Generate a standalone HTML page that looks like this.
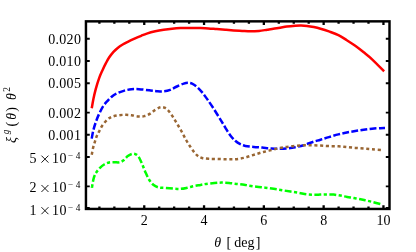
<!DOCTYPE html>
<html><head><meta charset="utf-8"><title>plot</title>
<style>
html,body{margin:0;padding:0;background:#fff;}
body{width:416px;height:252px;overflow:hidden;}
svg{display:block;will-change:transform;}
svg text{font-family:"Liberation Serif",serif;font-size:14px;fill:#000;}
</style></head><body>
<svg width="416" height="252" viewBox="0 0 416 252">
<rect width="416" height="252" fill="#fff"/>
<rect x="85.95" y="21.35" width="303.55" height="187.60" fill="none" stroke="#000" stroke-width="2.45"/>
<path d="M99.40 208.95 v-2.40M99.40 21.35 v2.40M114.35 208.95 v-2.40M114.35 21.35 v2.40M129.30 208.95 v-2.40M129.30 21.35 v2.40M144.25 208.95 v-3.75M144.25 21.35 v3.75M159.20 208.95 v-2.40M159.20 21.35 v2.40M174.15 208.95 v-2.40M174.15 21.35 v2.40M189.10 208.95 v-2.40M189.10 21.35 v2.40M204.05 208.95 v-3.75M204.05 21.35 v3.75M219.00 208.95 v-2.40M219.00 21.35 v2.40M233.95 208.95 v-2.40M233.95 21.35 v2.40M248.90 208.95 v-2.40M248.90 21.35 v2.40M263.85 208.95 v-3.75M263.85 21.35 v3.75M278.80 208.95 v-2.40M278.80 21.35 v2.40M293.75 208.95 v-2.40M293.75 21.35 v2.40M308.70 208.95 v-2.40M308.70 21.35 v2.40M323.65 208.95 v-3.75M323.65 21.35 v3.75M338.60 208.95 v-2.40M338.60 21.35 v2.40M353.55 208.95 v-2.40M353.55 21.35 v2.40M368.50 208.95 v-2.40M368.50 21.35 v2.40M383.45 208.95 v-3.75M383.45 21.35 v3.75" stroke="#000" stroke-width="2.3" fill="none"/>
<path d="M85.95 186.38 h3.80M389.50 186.38 h-3.70M85.95 157.02 h3.80M389.50 157.02 h-3.70M85.95 134.80 h3.80M389.50 134.80 h-3.70M85.95 112.58 h3.80M389.50 112.58 h-3.70M85.95 83.22 h3.80M389.50 83.22 h-3.70M85.95 61.00 h3.80M389.50 61.00 h-3.70M85.95 38.78 h3.80M389.50 38.78 h-3.70M85.95 207.95 h3.8M389.50 207.95 h-3.7" stroke="#000" stroke-width="1.9" fill="none"/>
<path id="red" d="M91.75 108.20C92.03 106.65 92.73 102.13 93.40 98.90C94.08 95.67 94.84 92.27 95.80 88.80C96.76 85.33 98.03 81.20 99.15 78.10C100.27 75.00 101.38 72.68 102.50 70.20C103.62 67.72 104.78 65.35 105.90 63.20C107.03 61.05 107.98 59.20 109.25 57.30C110.52 55.40 112.09 53.37 113.50 51.80C114.91 50.23 116.17 49.12 117.70 47.90C119.23 46.68 121.02 45.52 122.70 44.50C124.38 43.48 125.83 42.77 127.80 41.80C129.77 40.83 132.27 39.70 134.50 38.70C136.73 37.70 139.15 36.65 141.20 35.80C143.25 34.95 144.46 34.35 146.80 33.60C149.14 32.85 152.43 31.94 155.25 31.30C158.07 30.66 160.89 30.18 163.70 29.75C166.51 29.32 169.30 28.97 172.10 28.70C174.90 28.43 177.70 28.23 180.50 28.10C183.30 27.97 185.65 27.90 188.90 27.90C192.15 27.90 196.75 28.02 200.00 28.10C203.25 28.18 205.60 28.23 208.40 28.40C211.20 28.57 213.99 28.88 216.80 29.10C219.61 29.33 222.43 29.53 225.25 29.75C228.07 29.97 230.89 30.21 233.70 30.40C236.51 30.59 239.30 30.75 242.10 30.90C244.90 31.05 247.70 31.30 250.50 31.30C253.30 31.30 256.10 31.16 258.90 30.90C261.70 30.64 264.05 30.22 267.30 29.75C270.55 29.28 275.15 28.63 278.40 28.10C281.65 27.57 283.99 26.95 286.80 26.55C289.61 26.15 292.87 25.88 295.25 25.70C297.63 25.52 299.14 25.47 301.10 25.50C303.06 25.53 304.88 25.64 307.00 25.90C309.12 26.16 311.55 26.58 313.80 27.05C316.05 27.52 317.98 27.97 320.50 28.70C323.02 29.43 325.92 30.33 328.90 31.40C331.88 32.47 335.42 33.63 338.40 35.10C341.38 36.57 343.99 38.42 346.80 40.20C349.61 41.98 352.43 43.78 355.25 45.80C358.07 47.82 360.89 50.05 363.70 52.30C366.51 54.55 368.70 56.13 372.10 59.30C375.50 62.47 382.10 69.30 384.10 71.30" fill="none" stroke="#ff0000" stroke-width="2.50"/>
<path id="blue" d="M91.70 138.70C91.96 137.35 92.57 133.35 93.25 130.60C93.93 127.85 94.82 125.00 95.80 122.20C96.78 119.40 97.88 116.52 99.15 113.80C100.42 111.08 101.99 108.07 103.40 105.90C104.81 103.73 106.07 102.47 107.60 100.80C109.13 99.13 110.92 97.20 112.60 95.90C114.28 94.60 115.73 93.88 117.70 93.00C119.67 92.12 122.12 91.22 124.40 90.60C126.68 89.98 128.97 89.53 131.40 89.30C133.83 89.07 136.03 89.03 139.00 89.20C141.97 89.37 146.25 89.97 149.20 90.30C152.15 90.63 154.32 91.02 156.70 91.20C159.08 91.38 161.25 91.62 163.50 91.40C165.75 91.18 167.97 90.72 170.20 89.90C172.43 89.08 174.65 87.55 176.90 86.50C179.15 85.45 181.87 84.22 183.70 83.60C185.53 82.98 186.50 82.80 187.90 82.80C189.30 82.80 190.57 82.90 192.10 83.60C193.63 84.30 195.42 85.53 197.10 87.00C198.78 88.47 200.52 90.38 202.20 92.40C203.88 94.42 205.30 96.40 207.20 99.10C209.10 101.80 211.37 105.15 213.60 108.60C215.83 112.05 218.67 116.68 220.60 119.80C222.53 122.92 223.55 124.72 225.15 127.30C226.75 129.88 228.52 133.05 230.20 135.30C231.88 137.55 233.57 139.32 235.25 140.80C236.93 142.28 238.62 143.35 240.30 144.20C241.98 145.05 243.10 145.45 245.35 145.90C247.60 146.35 250.99 146.62 253.80 146.90C256.61 147.18 259.40 147.35 262.20 147.60C265.00 147.85 267.90 148.20 270.60 148.40C273.30 148.60 275.70 148.80 278.40 148.80C281.10 148.80 283.99 148.67 286.80 148.40C289.61 148.13 292.43 147.73 295.25 147.20C298.07 146.67 300.89 146.03 303.70 145.20C306.51 144.37 309.30 143.12 312.10 142.20C314.90 141.28 317.70 140.55 320.50 139.70C323.30 138.85 325.92 137.98 328.90 137.10C331.88 136.22 335.42 135.17 338.40 134.40C341.38 133.63 343.99 133.07 346.80 132.50C349.61 131.93 352.43 131.47 355.25 131.00C358.07 130.53 360.89 130.09 363.70 129.70C366.51 129.31 369.30 128.91 372.10 128.65C374.90 128.39 378.35 128.26 380.50 128.15C382.65 128.04 384.25 128.03 385.00 128.00" fill="none" stroke="#0000ff" stroke-width="2.50" stroke-dasharray="6.85 2.385" stroke-dashoffset="-0.1"/>
<path id="brown" d="M91.75 154.70C91.97 153.55 92.59 149.91 93.10 147.80C93.61 145.69 94.20 143.97 94.80 142.05C95.40 140.13 95.97 138.09 96.70 136.30C97.43 134.51 98.23 133.14 99.20 131.30C100.17 129.46 101.10 127.23 102.50 125.25C103.90 123.27 105.92 120.86 107.60 119.40C109.28 117.94 110.64 117.21 112.60 116.50C114.56 115.79 117.10 115.43 119.35 115.15C121.60 114.87 124.04 114.78 126.10 114.80C128.16 114.82 129.65 114.98 131.70 115.25C133.75 115.52 136.30 116.26 138.40 116.40C140.50 116.54 142.33 116.57 144.30 116.10C146.27 115.63 148.38 114.63 150.20 113.60C152.02 112.57 153.57 110.95 155.25 109.90C156.93 108.85 158.76 107.67 160.30 107.30C161.84 106.93 163.10 107.08 164.50 107.70C165.90 108.32 167.30 109.47 168.70 111.00C170.10 112.53 171.50 114.78 172.90 116.90C174.30 119.02 175.60 121.18 177.10 123.70C178.60 126.22 180.40 129.28 181.90 132.00C183.40 134.72 184.70 137.55 186.10 140.00C187.50 142.45 188.90 144.60 190.30 146.70C191.70 148.80 193.23 151.05 194.50 152.60C195.77 154.15 196.63 155.10 197.90 156.00C199.17 156.90 200.28 157.53 202.10 158.00C203.92 158.47 206.28 158.68 208.80 158.85C211.33 159.02 214.25 158.93 217.25 159.00C220.25 159.07 223.80 159.27 226.80 159.30C229.80 159.33 232.43 159.43 235.25 159.20C238.07 158.97 240.89 158.54 243.70 157.90C246.51 157.26 249.30 156.20 252.10 155.35C254.90 154.50 257.70 153.59 260.50 152.80C263.30 152.01 265.92 151.33 268.90 150.60C271.88 149.87 275.42 149.02 278.40 148.40C281.38 147.78 283.99 147.33 286.80 146.90C289.61 146.47 292.43 146.08 295.25 145.80C298.07 145.53 300.89 145.34 303.70 145.25C306.51 145.16 309.30 145.19 312.10 145.25C314.90 145.31 317.70 145.46 320.50 145.60C323.30 145.74 325.92 145.98 328.90 146.10C331.88 146.22 335.42 146.15 338.40 146.30C341.38 146.45 343.99 146.73 346.80 147.00C349.61 147.27 352.43 147.64 355.25 147.90C358.07 148.16 360.89 148.33 363.70 148.55C366.51 148.77 368.80 148.94 372.10 149.20C375.40 149.46 381.60 149.95 383.50 150.10" fill="none" stroke="#996633" stroke-width="2.50" stroke-dasharray="3.1 2.68"/>
<path id="green" d="M92.05 187.00C92.30 185.63 92.90 181.15 93.55 178.80C94.20 176.45 94.88 174.72 95.95 172.90C97.03 171.08 98.62 169.30 100.00 167.90C101.38 166.50 102.66 165.40 104.20 164.50C105.74 163.60 107.57 162.88 109.25 162.50C110.93 162.12 112.62 162.23 114.30 162.20C115.98 162.17 117.80 162.62 119.35 162.30C120.90 161.98 122.19 161.33 123.60 160.30C125.01 159.27 126.40 157.17 127.80 156.10C129.20 155.03 130.74 154.23 132.00 153.90C133.26 153.57 134.23 153.60 135.35 154.10C136.47 154.60 137.57 155.25 138.70 156.90C139.82 158.55 141.00 161.50 142.10 164.00C143.20 166.50 144.15 169.32 145.30 171.90C146.45 174.48 147.67 177.35 149.00 179.50C150.33 181.65 151.72 183.48 153.30 184.80C154.88 186.12 156.51 186.88 158.50 187.40C160.49 187.92 162.72 187.70 165.25 187.90C167.78 188.10 171.17 188.43 173.70 188.60C176.22 188.77 178.17 189.03 180.40 188.90C182.63 188.77 184.85 188.27 187.10 187.80C189.35 187.33 191.65 186.58 193.90 186.10C196.15 185.62 198.56 185.27 200.60 184.90C202.64 184.53 203.85 184.22 206.15 183.90C208.45 183.58 211.86 183.22 214.40 183.00C216.94 182.78 218.97 182.60 221.40 182.60C223.83 182.60 226.47 182.78 229.00 183.00C231.53 183.22 234.07 183.61 236.60 183.90C239.13 184.19 242.23 184.48 244.20 184.75C246.17 185.02 246.30 185.16 248.40 185.50C250.50 185.84 253.99 186.43 256.80 186.80C259.61 187.17 262.43 187.36 265.25 187.70C268.07 188.04 270.89 188.43 273.70 188.85C276.51 189.27 279.30 189.75 282.10 190.20C284.90 190.65 287.70 191.10 290.50 191.55C293.30 192.00 296.20 192.44 298.90 192.90C301.60 193.36 304.27 193.99 306.70 194.30C309.13 194.61 311.25 194.70 313.50 194.75C315.75 194.80 317.97 194.66 320.20 194.60C322.43 194.54 324.65 194.40 326.90 194.40C329.15 194.40 331.45 194.40 333.70 194.60C335.95 194.80 338.17 195.22 340.40 195.60C342.63 195.98 344.85 196.48 347.10 196.90C349.35 197.32 351.65 197.70 353.90 198.10C356.15 198.50 358.72 198.94 360.60 199.30C362.48 199.66 363.17 199.80 365.20 200.25C367.23 200.70 369.90 201.27 372.80 202.00C375.70 202.73 380.97 204.21 382.60 204.65" fill="none" stroke="#00ff00" stroke-width="2.50" stroke-dasharray="3.2 2.45 6.9 2.44" stroke-dashoffset="0.4"/>
<path d="M92.06 186.95 L91.9 187.9" fill="none" stroke="#00ff00" stroke-width="2.50"/>
<text x="81.2" y="43.98" text-anchor="end" style="letter-spacing:0.3px">0.020</text>
<text x="81.2" y="66.20" text-anchor="end" style="letter-spacing:0.3px">0.010</text>
<text x="81.2" y="88.42" text-anchor="end" style="letter-spacing:0.3px">0.005</text>
<text x="81.2" y="117.78" text-anchor="end" style="letter-spacing:0.3px">0.002</text>
<text x="81.2" y="140.00" text-anchor="end" style="letter-spacing:0.3px">0.001</text>
<text x="29.5" y="162.92">5</text>
<text x="51.9" y="162.92" style="letter-spacing:0.5px">10</text>
<path d="M41.45 155.62 l7 7 m0 -7 l-7 7" stroke="#000" stroke-width="0.9" fill="none"/>
<text x="67.8" y="159.12" style="font-size:9.3px;fill:#222">−</text>
<text x="75.7" y="159.12" style="font-size:9.3px">4</text>
<text x="29.5" y="192.28">2</text>
<text x="51.9" y="192.28" style="letter-spacing:0.5px">10</text>
<path d="M41.45 184.98 l7 7 m0 -7 l-7 7" stroke="#000" stroke-width="0.9" fill="none"/>
<text x="67.8" y="188.48" style="font-size:9.3px;fill:#222">−</text>
<text x="75.7" y="188.48" style="font-size:9.3px">4</text>
<text x="29.5" y="214.50">1</text>
<text x="51.9" y="214.50" style="letter-spacing:0.5px">10</text>
<path d="M41.45 207.20 l7 7 m0 -7 l-7 7" stroke="#000" stroke-width="0.9" fill="none"/>
<text x="67.8" y="210.70" style="font-size:9.3px;fill:#222">−</text>
<text x="75.7" y="210.70" style="font-size:9.3px">4</text>
<text x="144.25" y="224.6" text-anchor="middle">2</text>
<text x="204.05" y="224.6" text-anchor="middle">4</text>
<text x="263.85" y="224.6" text-anchor="middle">6</text>
<text x="323.65" y="224.6" text-anchor="middle">8</text>
<text x="383.45" y="224.6" text-anchor="middle">10</text>
<text x="214.3" y="246.6" style="font-style:italic">θ</text>
<text x="226.4" y="246.8">[</text>
<text x="234.3" y="246.6">deg</text>
<text x="255.8" y="246.8">]</text>
<g transform="translate(16.2,143) rotate(-90)"><text x="0" y="0" style="font-style:italic">ξ</text><text x="8.7" y="-6.8" style="font-size:9.3px;font-style:italic">g</text><text x="16.5" y="-0.3">(</text><text x="23.3" y="-0.5" style="font-style:italic">θ</text><text x="31.3" y="-0.3">)</text><text x="43" y="-0.5" style="font-style:italic">θ</text><text x="51.2" y="-6.6" style="font-size:9.3px">2</text></g>
</svg>
</body></html>
